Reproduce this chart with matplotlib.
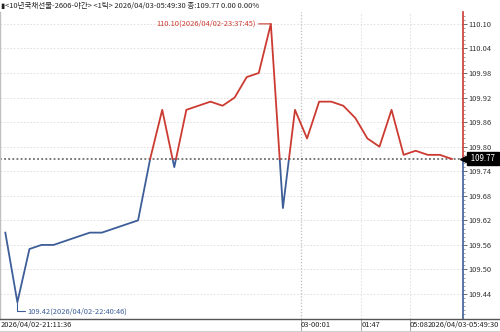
import numpy as np
import matplotlib
matplotlib.use("Agg")
import matplotlib.pyplot as plt
from matplotlib.lines import Line2D
from matplotlib.transforms import blended_transform_factory
from matplotlib import font_manager

# 좁은 글꼴이 있으면 사용
names = {f.name for f in font_manager.fontManager.ttflist}
narrow = [n for n in ['Liberation Sans Narrow', 'DejaVu Sans Condensed'] if n in names]
print(narrow)
plt.rcParams['font.family'] = narrow + ['Noto Sans CJK KR', 'DejaVu Sans']

# ---- data (1틱 체결가) ----
prices = [109.59, 109.42, 109.55, 109.56, 109.56, 109.57, 109.58, 109.59, 109.59, 109.60,
          109.61, 109.62, 109.77, 109.89, 109.75, 109.89, 109.90, 109.91, 109.90, 109.92,
          109.97, 109.98, 110.10, 109.65, 109.89, 109.82, 109.91, 109.91, 109.90, 109.87,
          109.82, 109.80, 109.89, 109.78, 109.79, 109.78, 109.78, 109.77]
cur_price = 109.77
y_ticks = [109.44, 109.50, 109.56, 109.62, 109.68, 109.74, 109.80, 109.86, 109.92, 109.98, 110.04, 110.10]
x_tick_pos = [24.5, 29.5, 33.5]
x_tick_labels = ["03-00:01", "01:47", "05:08"]
first_label = "2026/04/02-21:11:36"
last_label = "2026/04/03-05:49:30"
title = "\u25ae<10년국채선물-2606-야간> <1틱> 2026/04/03-05:49:30 종:109.77 0.00 0.00%"
max_label = "110.10(2026/04/02-23:37:45)"
min_label = "109.42(2026/04/02-22:40:46)"

RED = "#cc3b31"
BLUE = "#3d5e98"
FS = 6.3 if narrow else 5.4

W, H = 500, 332
fig = plt.figure(figsize=(W / 100, H / 100), dpi=100)
ax = fig.add_axes([0, 13 / H, 463 / W, 307 / H])

x = np.arange(len(prices), dtype=float)
y = np.array(prices)

# 현재가 기준으로 교차점 삽입 -> 위는 빨강, 아래는 파랑
xs, ys = [x[0]], [y[0]]
for i in range(1, len(y)):
    a, b = y[i - 1] - cur_price, y[i] - cur_price
    if a * b < 0:
        t = a / (a - b)
        xs.append(x[i - 1] + t)
        ys.append(cur_price)
    xs.append(x[i])
    ys.append(y[i])
xs, ys = np.array(xs), np.array(ys)
up = np.where(ys >= cur_price - 1e-9, ys, np.nan)
dn = np.where(ys <= cur_price + 1e-9, ys, np.nan)
ax.plot(xs, dn, color=BLUE, lw=1.3, zorder=3)
ax.plot(xs, up, color=RED, lw=1.3, zorder=3)

ax.set_xlim(-0.44, 37.92)
ax.set_ylim(109.379, 110.129)

# grid
for t in y_ticks:
    ax.axhline(t, color="#dcdcdc", lw=0.6, ls=(0, (2, 2)), zorder=1)
for i, p in enumerate(x_tick_pos):
    if i == 0:
        ax.axvline(p, color="#bdbdbd", lw=0.9, ls=(0, (1, 1.5)), zorder=1)
    else:
        ax.axvline(p, color="#dcdcdc", lw=0.6, ls=(0, (2, 2)), zorder=1)

ax.axhline(cur_price, color="#555555", lw=1.1, ls=(0, (1.2, 1.5)), zorder=2)

# spines
for s in ["top", "right", "bottom"]:
    ax.spines[s].set_visible(False)
ax.spines["left"].set_color("#c0c0c0")
ax.spines["left"].set_linewidth(1.0)

bt = blended_transform_factory(ax.transAxes, ax.transData)
ax.plot([1, 1], [cur_price, 110.129], color=RED, lw=1.2, transform=bt, clip_on=False)
ax.plot([1, 1], [109.379, cur_price], color=BLUE, lw=1.2, transform=bt, clip_on=False)

# y axis (right)
ax.yaxis.tick_right()
ax.set_yticks(y_ticks)
ax.set_yticklabels([f"{v:.2f}" for v in y_ticks])
ax.set_yticks(np.arange(109.38, 110.13, 0.01), minor=True)
ax.tick_params(axis="y", which="major", length=3, width=0.6, color="#555555", pad=1,
               labelsize=FS, labelcolor="#333333")
ax.tick_params(axis="y", which="minor", length=1.5, width=0.5, color="#777777")
ax.set_xticks([])

# current price tag
ax.plot([1.0], [cur_price], marker="<", ms=5, color="black", transform=bt, clip_on=False, zorder=5)
ax.text(1.013, cur_price, " 109.77 ", transform=bt, ha="left", va="center", fontsize=FS + 0.3,
        color="white", zorder=6,
        bbox=dict(boxstyle="square,pad=0.25", fc="black", ec="black"))

# 최고/최저 표시
imax = int(np.argmax(y))
imin = int(np.argmin(y))
ax.annotate(max_label, xy=(x[imax], y[imax]), xytext=(-15, 0), textcoords="offset pixels",
            ha="right", va="center", fontsize=FS, color=RED,
            arrowprops=dict(arrowstyle="-", color=RED, lw=0.8, shrinkA=0, shrinkB=0))
ax.annotate(min_label, xy=(x[imin], y[imin]), xytext=(10, -9), textcoords="offset pixels",
            ha="left", va="center", fontsize=FS, color=BLUE,
            arrowprops=dict(arrowstyle="-", color=BLUE, lw=0.8, shrinkA=0, shrinkB=0,
                            connectionstyle="angle,angleA=0,angleB=90,rad=0"))

# x axis strip
fig.add_artist(Line2D([0, 1], [13 / H, 13 / H], color="#555555", lw=1.0))
fig.add_artist(Line2D([0, 1], [1 / H, 1 / H], color="#cfcfcf", lw=0.8))
fig.text(0.5 / W, 7 / H, first_label, ha="left", va="center", fontsize=FS, color="#222222")
fig.text(499 / W, 7 / H, last_label, ha="right", va="center", fontsize=FS, color="#222222")
bx = blended_transform_factory(ax.transData, fig.transFigure)
for p, lab in zip(x_tick_pos, x_tick_labels):
    ax.plot([p, p], [1 / H, 13 / H], color="#999999", lw=0.6, transform=bx, clip_on=False)
    ax.text(p, 7 / H, lab, transform=bx, ha="left", va="center", fontsize=FS,
            color="#222222")

fig.text(1 / W, 1 - 6 / H, title, ha="left", va="center", fontsize=FS, color="#222222")

fig.savefig("out.png", dpi=100)
